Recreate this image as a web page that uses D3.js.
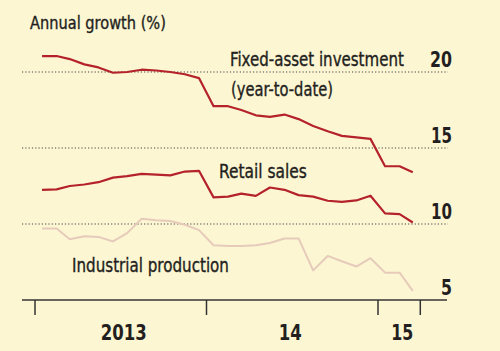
<!DOCTYPE html>
<html><head><meta charset="utf-8">
<script src="https://cdn.jsdelivr.net/npm/d3@7"></script>
<style>html,body{margin:0;padding:0;background:#fdf6d3}svg{display:block}</style>
</head><body><svg id="c" width="500" height="351"></svg>
<script>
const months = ["2013-01","2013-02","2013-03","2013-04","2013-05","2013-06","2013-07","2013-08","2013-09","2013-10","2013-11","2013-12",
  "2014-01","2014-02","2014-03","2014-04","2014-05","2014-06","2014-07","2014-08","2014-09","2014-10","2014-11","2014-12",
  "2015-01","2015-02","2015-03"];
const fixedAsset = [21.05,21.05,20.85,20.5,20.3,19.95,20.0,20.15,20.1,20.0,19.85,19.6,
  17.75,17.75,17.5,17.15,17.05,17.2,16.9,16.45,16.1,15.8,15.7,15.6,13.8,13.8,13.4];
const retailSales = [12.25,12.28,12.5,12.6,12.75,13.05,13.15,13.3,13.25,13.2,13.45,13.5,
  11.75,11.8,12.0,11.85,12.4,12.25,11.9,11.8,11.53,11.45,11.55,11.86,10.7,10.65,10.1];
const industrialProd = [9.7,9.7,9.0,9.2,9.15,8.85,9.4,10.35,10.25,10.2,9.95,9.6,
  8.6,8.55,8.55,8.6,8.75,9.05,9.05,6.95,7.9,7.55,7.2,7.75,6.8,6.8,5.6];
const yTicks = [5,10,15,20];
const xTicks = ["2013-01-01","2014-01-01","2015-01-01","2015-04-01"];
const yearLabels = ["2013","14","15"];

const parseM = d3.utcParse("%Y-%m");
const parseD = d3.utcParse("%Y-%m-%d");
const mid = m => d3.utcDay.offset(parseM(m), 15);

const svg = d3.select("#c");
const font = "'Liberation Sans Narrow','DejaVu Sans Condensed','Roboto',sans-serif";
const ink = "#231f20";

svg.append("rect").attr("width",500).attr("height",351).attr("fill","#fdf6d3");

const x = d3.scaleUtc().domain([parseD("2013-01-01"), parseD("2015-01-01")]).range([35, 378]);
const y = d3.scaleLinear().domain([5,20]).range([300,72]);

// fit a text to a width by horizontal scaling (anchor: start/middle/end)
function fit(sel, w, anchor) {
  sel.each(function(d, i) {
    const el = d3.select(this);
    const tw = typeof w === "function" ? w(d, i) : w;
    const nat = this.getComputedTextLength();
    const ax = +el.attr("data-x"), ay = +el.attr("data-y");
    const s = tw / nat;
    let x0 = ax;
    if (anchor === "middle") x0 = ax - tw / 2;
    if (anchor === "end") x0 = ax - tw;
    el.attr("x", 0).attr("y", 0).attr("text-anchor", "start")
      .attr("transform", `translate(${x0},${ay}) scale(${s},1)`);
  });
}

// gridlines
svg.append("g").selectAll("line").data(yTicks.filter(t=>t>5)).join("line")
  .attr("x1",22).attr("x2",448).attr("y1",d=>y(d)).attr("y2",d=>y(d))
  .attr("stroke","#444").attr("stroke-width",1.2).attr("stroke-dasharray","1.2,2.1");

// y labels
const yWidths = {5:11, 10:21, 15:21, 20:22};
svg.append("g").selectAll("text").data(yTicks).join("text")
  .attr("data-x",452).attr("data-y",d=>y(d)-5)
  .attr("font-family",font).attr("font-size",22).attr("font-weight",700).attr("fill",ink)
  .text(d=>d)
  .call(fit, d=>yWidths[d], "end");

// x axis
svg.append("line").attr("x1",22).attr("x2",447).attr("y1",y(5)).attr("y2",y(5))
  .attr("stroke","#333").attr("stroke-width",1.5);
svg.append("g").selectAll("line").data(xTicks).join("line")
  .attr("x1",d=>x(parseD(d))).attr("x2",d=>x(parseD(d)))
  .attr("y1",y(5)).attr("y2",y(5)+15).attr("stroke","#333").attr("stroke-width",1.5);
const yearW = [46, 23, 22];
svg.append("g").selectAll("text").data(yearLabels).join("text")
  .attr("data-x",(d,i)=>(x(parseD(xTicks[i]))+x(parseD(xTicks[i+1])))/2 + [3,-2,3][i])
  .attr("data-y",340)
  .attr("font-family",font).attr("font-size",22).attr("font-weight",700).attr("fill",ink)
  .text(d=>d)
  .call(fit, (d,i)=>yearW[i], "middle");

// lines
const line = d3.line().x((d,i)=>x(mid(months[i]))).y(d=>y(d));
svg.append("path").datum(industrialProd).attr("d",line).attr("fill","none")
  .attr("stroke","#e6cbbb").attr("stroke-width",2).attr("stroke-linejoin","round");
svg.append("path").datum(retailSales).attr("d",line).attr("fill","none")
  .attr("stroke","#b4232a").attr("stroke-width",2.2).attr("stroke-linejoin","round");
svg.append("path").datum(fixedAsset).attr("d",line).attr("fill","none")
  .attr("stroke","#b4232a").attr("stroke-width",2.2).attr("stroke-linejoin","round");

// texts
const labels = [
  {t:"Annual growth (%)", x:30, y:29, w:136, s:18},
  {t:"Fixed-asset investment", x:230, y:66, w:174, s:19},
  {t:"(year-to-date)", x:231, y:95.5, w:102, s:19},
  {t:"Retail sales", x:219, y:178, w:88, s:19},
  {t:"Industrial production", x:72, y:272, w:157, s:19}
];
svg.append("g").selectAll("text").data(labels).join("text")
  .attr("data-x",d=>d.x).attr("data-y",d=>d.y).attr("font-size",d=>d.s)
  .attr("font-family",font).attr("fill",ink)
  .attr("stroke",ink).attr("stroke-width",0.35)
  .text(d=>d.t)
  .call(fit, d=>d.w, "start");
</script></body></html>
